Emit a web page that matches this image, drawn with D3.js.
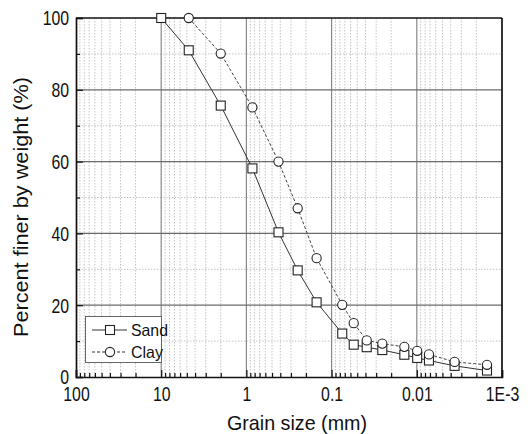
<!DOCTYPE html>
<html>
<head>
<meta charset="utf-8">
<script src="https://cdn.jsdelivr.net/npm/d3@7"></script>
<style>
  html, body { margin: 0; padding: 0; background: #fff; }
  svg { display: block; font-family: "Liberation Sans", Arial, sans-serif; }
</style>
</head>
<body>
<svg id="chart" width="531" height="434"></svg>
<script>
// ---- data ----
const sandSizes = [10, 4.75, 2.0, 0.85, 0.42, 0.25, 0.15, 0.075, 0.055, 0.0387, 0.0254, 0.014, 0.0099, 0.0072, 0.0036, 0.0015];
const sandValues = [100, 91, 75.6, 58.1, 40.3, 29.7, 20.8, 12.1, 9.0, 8.3, 7.5, 6.2, 5.3, 4.6, 3.1, 1.8];
const claySizes = [4.75, 2.0, 0.85, 0.42, 0.25, 0.15, 0.075, 0.055, 0.0387, 0.0254, 0.014, 0.0099, 0.0072, 0.0036, 0.0015];
const clayValues = [100, 90.1, 75.1, 60.0, 47.0, 33.1, 20.1, 15.0, 10.2, 9.3, 8.4, 7.3, 6.3, 4.2, 3.4];
const xTicks = [100, 10, 1, 0.1, 0.01, 0.001];
const xTickLabels = ["100", "10", "1", "0.1", "0.01", "1E-3"];
const yTicks = [0, 20, 40, 60, 80, 100];
const seriesNames = ["Sand", "Clay"];

// ---- layout ----
const svg = d3.select("#chart");
const L = 76, R = 502, T = 18, B = 377;
const x = d3.scaleLog().domain([100, 0.001]).range([L, R]);
const y = d3.scaleLinear().domain([0, 100]).range([B, T]);

function compress(sel, ratio) {
  sel.each(function () {
    const w = this.getComputedTextLength();
    this.setAttribute("textLength", (w * ratio).toFixed(2));
    this.setAttribute("lengthAdjust", "spacingAndGlyphs");
  });
}
function fitTo(sel, width) {
  sel.each(function () {
    this.setAttribute("textLength", width);
    this.setAttribute("lengthAdjust", "spacingAndGlyphs");
  });
}

// minor positions
const minorX = [];
for (let e = -3; e < 2; e++) for (let k = 2; k <= 9; k++) minorX.push(k * Math.pow(10, e));
const minorY = d3.range(10, 100, 20);

const grid = svg.append("g");
grid.selectAll(".mx").data(minorX).join("line")
  .attr("x1", d => x(d)).attr("x2", d => x(d)).attr("y1", T).attr("y2", B)
  .attr("stroke", "#c4c4c4").attr("stroke-width", 1).attr("stroke-dasharray", "1.5,1.5");
grid.selectAll(".my").data(minorY).join("line")
  .attr("x1", L).attr("x2", R).attr("y1", d => y(d)).attr("y2", d => y(d))
  .attr("stroke", "#c4c4c4").attr("stroke-width", 1).attr("stroke-dasharray", "1.5,1.5");
grid.selectAll(".Mx").data(xTicks.slice(1, -1)).join("line")
  .attr("x1", d => x(d)).attr("x2", d => x(d)).attr("y1", T).attr("y2", B)
  .attr("stroke", "#888").attr("stroke-width", 1.2);
grid.selectAll(".My").data(yTicks.slice(1, -1)).join("line")
  .attr("x1", L).attr("x2", R).attr("y1", d => y(d)).attr("y2", d => y(d))
  .attr("stroke", "#6a6a6a").attr("stroke-width", 1.2);

// axes
const xAxis = d3.axisBottom(x).tickValues(xTicks).tickSize(-7).tickPadding(14)
  .tickFormat((d, i) => xTickLabels[i]);
const gx = svg.append("g").attr("transform", `translate(0,${B})`).call(xAxis);
const gxm = svg.append("g").attr("transform", `translate(0,${B})`)
  .call(d3.axisBottom(x).tickValues(minorX).tickSize(-4).tickFormat(""));
gxm.select(".domain").remove();

const yAxis = d3.axisLeft(y).tickValues(yTicks).tickSize(-7).tickPadding(7);
const gy = svg.append("g").attr("transform", `translate(${L},0)`).call(yAxis);
const gym = svg.append("g").attr("transform", `translate(${L},0)`)
  .call(d3.axisLeft(y).tickValues(minorY).tickSize(-4).tickFormat(""));
gym.select(".domain").remove();

[gx, gy, gxm, gym].forEach(g => {
  g.selectAll(".domain").attr("stroke", "#111").attr("stroke-width", 1.7);
  g.selectAll(".tick line").attr("stroke", "#111").attr("stroke-width", 1.2);
});
gx.selectAll(".tick text").attr("font-size", 20).attr("fill", "#111")
  .attr("font-family", "Liberation Sans, Arial, sans-serif")
  .attr("y", 24).attr("dy", 0);
gy.selectAll(".tick text").attr("font-size", 20).attr("fill", "#111")
  .attr("font-family", "Liberation Sans, Arial, sans-serif")
  .attr("dy", "0.34em");
compress(gx.selectAll(".tick text"), 0.79);
compress(gy.selectAll(".tick text"), 0.79);

// top/right frame
svg.append("line").attr("x1", L).attr("x2", R).attr("y1", T).attr("y2", T)
  .attr("stroke", "#111").attr("stroke-width", 1.7);
svg.append("line").attr("x1", R).attr("x2", R).attr("y1", T).attr("y2", B)
  .attr("stroke", "#111").attr("stroke-width", 1.7);

// series
const sand = sandSizes.map((s, i) => [s, sandValues[i]]);
const clay = claySizes.map((s, i) => [s, clayValues[i]]);
const line = d3.line().x(d => x(d[0])).y(d => y(d[1]));

svg.append("path").datum(clay).attr("d", line).attr("fill", "none")
  .attr("stroke", "#444").attr("stroke-width", 1).attr("stroke-dasharray", "3,2");
svg.append("path").datum(sand).attr("d", line).attr("fill", "none")
  .attr("stroke", "#333").attr("stroke-width", 1);

const sq = 9;
svg.append("g").selectAll("rect").data(sand).join("rect")
  .attr("x", d => x(d[0]) - sq / 2).attr("y", d => y(d[1]) - sq / 2)
  .attr("width", sq).attr("height", sq)
  .attr("fill", "#fff").attr("stroke", "#222").attr("stroke-width", 1.1);
svg.append("g").selectAll("circle").data(clay).join("circle")
  .attr("cx", d => x(d[0])).attr("cy", d => y(d[1])).attr("r", 4.6)
  .attr("fill", "#fff").attr("stroke", "#222").attr("stroke-width", 1.1);

// axis titles
const xt = svg.append("text").attr("x", 297).attr("y", 430)
  .attr("text-anchor", "middle").attr("font-size", 21).attr("fill", "#111")
  .text("Grain size (mm)");
fitTo(xt, 140);
const yt = svg.append("text").attr("transform", `translate(28,207) rotate(-90)`)
  .attr("text-anchor", "middle").attr("font-size", 21).attr("fill", "#111")
  .text("Percent finer by weight (%)");
fitTo(yt, 260);

// legend
const lg = svg.append("g");
lg.append("rect").attr("x", 85.5).attr("y", 316.5).attr("width", 76).attr("height", 46)
  .attr("fill", "#fff").attr("stroke", "#666").attr("stroke-width", 1);
const rows = [330, 352];
const legendWidths = [37, 32];
seriesNames.forEach((name, i) => {
  const yy = rows[i];
  lg.append("line").attr("x1", 92).attr("x2", 127).attr("y1", yy).attr("y2", yy)
    .attr("stroke", "#333").attr("stroke-width", 1)
    .attr("stroke-dasharray", i === 1 ? "3,2" : null);
  if (i === 0) {
    lg.append("rect").attr("x", 110 - sq / 2).attr("y", yy - sq / 2).attr("width", sq).attr("height", sq)
      .attr("fill", "#fff").attr("stroke", "#222").attr("stroke-width", 1.1);
  } else {
    lg.append("circle").attr("cx", 110).attr("cy", yy).attr("r", 4.6)
      .attr("fill", "#fff").attr("stroke", "#222").attr("stroke-width", 1.1);
  }
  const t = lg.append("text").attr("x", 131).attr("y", yy + 6).attr("font-size", 16.5)
    .attr("fill", "#111").text(name);
  fitTo(t, legendWidths[i]);
});
</script>
</body>
</html>
